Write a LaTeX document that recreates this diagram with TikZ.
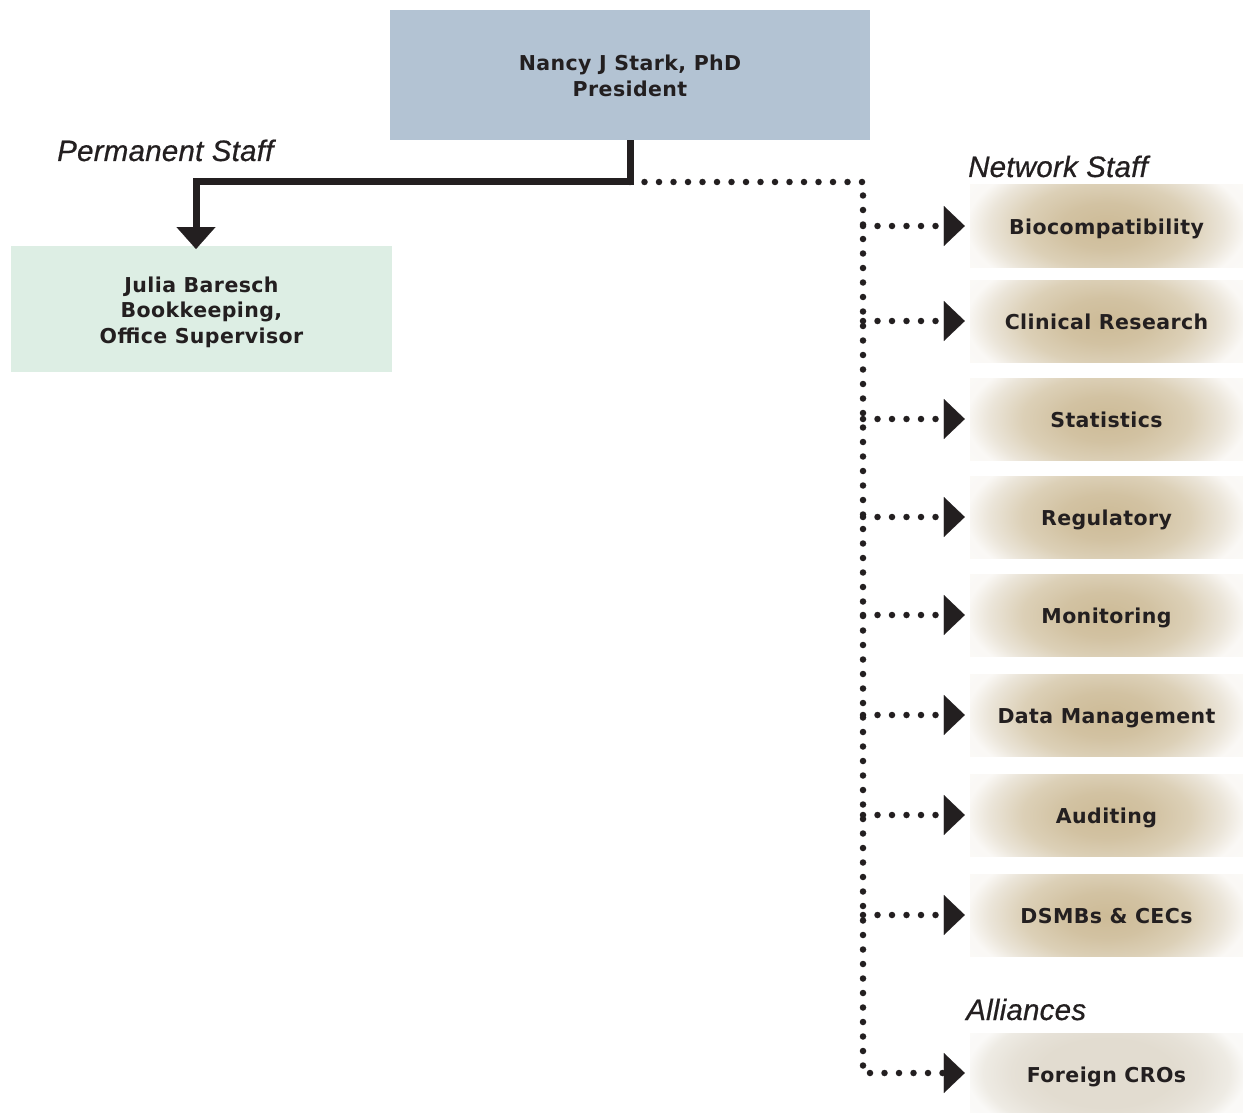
\documentclass[tikz,border=0pt]{standalone}
\usepackage{fontspec}
\setmainfont{DejaVu Sans}
\newfontfamily\boxfont[LetterSpace=2]{DejaVu Sans}
\newfontfamily\labfont[LetterSpace=0.8,FakeBold=0.6]{Liberation Sans}
\usetikzlibrary{arrows.meta}
\newcommand{\lowertext}[2]{\raisebox{-#1}[\height][\depth]{#2}}
\definecolor{ink}{HTML}{231F20}
\definecolor{presfill}{HTML}{B3C3D3}
\definecolor{juliafill}{HTML}{DDEEE4}
\definecolor{tanA}{HTML}{CDBB97}
\definecolor{tanB}{HTML}{D2C2A2}
\definecolor{tanM}{HTML}{DCD0B7}
\definecolor{tanE}{HTML}{EBE5D9}
\definecolor{tanW}{HTML}{FAF8F5}
\definecolor{grA}{HTML}{E2DCD0}
\definecolor{grM}{HTML}{E6E1D7}
\definecolor{grE}{HTML}{EEEBE4}
\definecolor{grW}{HTML}{FAF9F7}
\pgfdeclareradialshading{tanshade}{\pgfpointorigin}{color(0bp)=(tanA); color(8bp)=(tanB); color(15bp)=(tanM); color(21bp)=(tanE); color(25bp)=(tanW); color(50bp)=(white)}
\pgfdeclareradialshading{grshade}{\pgfpointorigin}{color(0bp)=(grA); color(12bp)=(grA); color(17bp)=(grM); color(22bp)=(grE); color(25bp)=(grW); color(50bp)=(white)}
\tikzset{
  x=1pt, y=-1pt,
  boxtext/.style={font=\boxfont\bfseries\fontsize{20.5}{25.5}\selectfont, text=ink, align=center, inner sep=0pt},
  presbox/.style={boxtext, fill=presfill, minimum width=480pt, minimum height=130pt},
  juliabox/.style={boxtext, fill=juliafill, minimum width=381pt, minimum height=126pt},
  linebox/.style={boxtext, minimum width=273pt, text height=15pt, text depth=4pt},
  netbox/.style={linebox, minimum height=82pt,
    path picture={\shade[shading=tanshade] (path picture bounding box.center) +(-140,-72) rectangle +(140,72);}},
  allybox/.style={linebox, minimum height=80pt,
    path picture={\shade[shading=grshade] (path picture bounding box.center) +(-140,-72) rectangle +(140,72);}},
  grouplabel/.style={font=\labfont\itshape\fontsize{29.5}{31}\selectfont, text=ink, inner sep=0pt, anchor=base west},
  solidline/.style={draw=ink, line width=7pt, line join=miter},
  dotline/.style={draw=ink, line width=6.5pt, line cap=round, dash pattern=on 0pt off 14.5pt},
  bigtip/.style={-{Triangle[width=39pt,length=22pt,line width=0.1pt]}},
  dottip/.style={-{Triangle[width=40pt,length=21pt,line width=0.1pt]}, shorten >=5pt},
}
\begin{document}
\begin{tikzpicture}
\useasboundingbox (0,0) rectangle (1243,1113);
\fill[white] (0,0) rectangle (1243,1113);

\node[presbox] (pres) at (630,75) {\lowertext{1pt}{\parbox{480pt}{\centering Nancy J Stark, PhD\\President}}};
\node[juliabox] (julia) at (201.5,309) {\lowertext{3pt}{\parbox{381pt}{\centering Julia Baresch\\Bookkeeping,\\Office Supervisor}}};

\node[netbox] (bio)  at (1106.5,226) {\lowertext{3pt}{Biocompatibility}};
\node[netbox] (clin) at (1106.5,321) {\lowertext{3pt}{Clinical Research}};
\node[netbox] (stat) at (1106.5,419) {\lowertext{3pt}{Statistics}};
\node[netbox] (reg)  at (1106.5,517) {\lowertext{3pt}{Regulatory}};
\node[netbox] (mon)  at (1106.5,615) {\lowertext{3pt}{Monitoring}};
\node[netbox] (data) at (1106.5,715) {\lowertext{3pt}{Data Management}};
\node[netbox] (aud)  at (1106.5,815) {\lowertext{3pt}{Auditing}};
\node[netbox] (dsmb) at (1106.5,915) {\lowertext{3pt}{DSMBs \& CECs}};
\node[allybox] (cro) at (1106.5,1073) {\lowertext{4pt}{Foreign CROs}};

\node[grouplabel] (perm) at (57,161) {Permanent Staff};
\node[grouplabel] (netw) at (968,177) {Network Staff};
\node[grouplabel] (ally) at (966,1020) {Alliances};

\coordinate (jn) at (630,182);
\coordinate (jt) at (196,249);
\coordinate (tc) at (863,182);

\draw[solidline, bigtip] (pres.south) -- (jn) -| (jt);

\draw[dotline, dottip] (jn) -- (tc) -- (tc |- cro.west) -- (cro.west);
\foreach \b in {bio,clin,stat,reg,mon,data,aud,dsmb}{
  \draw[dotline, dottip] (tc |- \b.west) -- (\b.west);
}
\end{tikzpicture}
\end{document}
